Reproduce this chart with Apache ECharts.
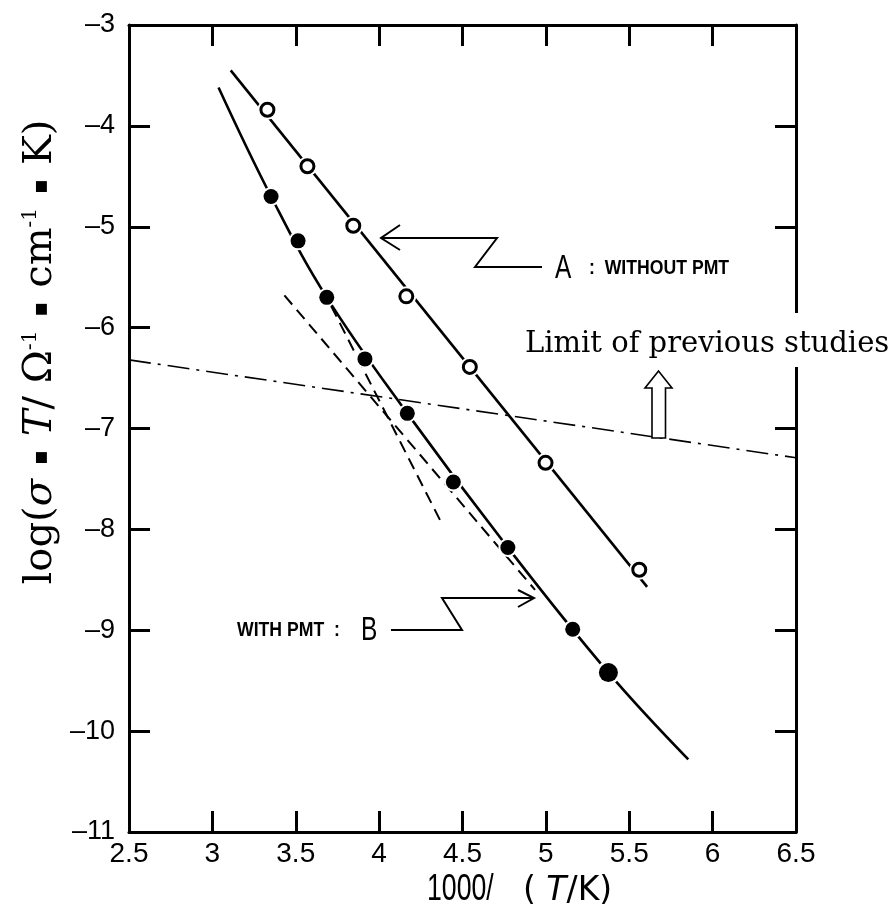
<!DOCTYPE html>
<html><head><meta charset="utf-8">
<script src="https://cdn.jsdelivr.net/npm/echarts@6/dist/echarts.min.js"></script>
<style>html,body{margin:0;padding:0;background:#fff}#c{width:895px;height:908px}</style>
</head><body><div id="c"></div>
<script>
// ---- axis ranges / ticks ----
const xMin = 2.5, xMax = 6.5, xStep = 0.5;
const yMin = -11, yMax = -3, yStep = 1;

// ---- series A : without PMT (open circles) ----
const aX = [3.33, 3.57, 3.845, 4.163, 4.544, 4.998, 5.56];
const aY = [-3.84, -4.40, -4.99, -5.69, -6.39, -7.34, -8.40];
// fitted straight line for A (end points)
const aLineX = [3.11, 5.607];
const aLineY = [-3.45, -8.57];

// ---- series B : with PMT (filled circles) ----
const bX = [3.352, 3.514, 3.686, 3.915, 4.169, 4.445, 4.772, 5.161, 5.375];
const bY = [-4.70, -5.14, -5.70, -6.31, -6.85, -7.53, -8.18, -8.99, -9.42];
// drawn smooth curve for B
const bCurveX = [3.037, 3.352, 3.686, 4.169, 4.772, 5.375, 5.854];
const bCurveY = [-3.62, -4.70, -5.70, -6.85, -8.18, -9.42, -10.28];

// ---- dashed tangent lines ----
const tanHighX = [3.712, 4.366];
const tanHighY = [-5.785, -7.91];
const tanLowX = [3.432, 4.935];
const tanLowY = [-5.68, -8.60];

// ---- limit of previous studies (dash-dot) ----
const limitX = [2.5, 6.5];
const limitY = [-6.32, -7.29];

const zip = (xs, ys) => xs.map((x, i) => [x, ys[i]]);

const SANS = "'Liberation Sans',Arial,sans-serif";
const SERIF = "'DejaVu Serif','Liberation Serif',serif";

const chart = echarts.init(document.getElementById('c'), null, {renderer: 'canvas'});

const axisCommon = {
  type: 'value', splitLine: {show: false},
  axisLine: {show: true, lineStyle: {color: '#000', width: 3}},
  axisTick: {show: true, inside: true, length: 21, lineStyle: {color: '#000', width: 3}}
};

const lineBase = {type: 'line', showSymbol: false, symbol: 'none', silent: true, animation: false};

const option = {
  animation: false,
  backgroundColor: '#fff',
  grid: {left: 129, right: 99, top: 25, bottom: 76},
  xAxis: [
    Object.assign({}, axisCommon, {min: xMin, max: xMax, interval: xStep, position: 'bottom',
      axisLabel: {show: true, color: '#000', fontSize: 28, fontFamily: SANS, margin: 8,
        showMinLabel: true, showMaxLabel: true}}),
    Object.assign({}, axisCommon, {min: xMin, max: xMax, interval: xStep, position: 'top',
      axisLabel: {show: false}})
  ],
  yAxis: [
    Object.assign({}, axisCommon, {min: yMin, max: yMax, interval: yStep, position: 'left',
      axisLabel: {show: true, color: '#000', fontSize: 27, fontFamily: SANS,
        margin: 14, formatter: v => (v < 0 ? '\u2013' + Math.abs(v) : String(v))}}),
    Object.assign({}, axisCommon, {min: yMin, max: yMax, interval: yStep, position: 'right',
      axisLabel: {show: false}})
  ],
  series: [
    Object.assign({}, lineBase, {name: 'A line', data: zip(aLineX, aLineY), z: 2,
      lineStyle: {color: '#000', width: 2.6}}),
    Object.assign({}, lineBase, {name: 'B curve', data: zip(bCurveX, bCurveY), smooth: 0.4, z: 2,
      lineStyle: {color: '#000', width: 2.6}}),
    Object.assign({}, lineBase, {name: 'tangent high T', data: zip(tanHighX, tanHighY), z: 2,
      lineStyle: {color: '#000', width: 2, type: [12, 7]}}),
    Object.assign({}, lineBase, {name: 'tangent low T', data: zip(tanLowX, tanLowY), z: 2,
      lineStyle: {color: '#000', width: 2, type: [12, 7]}}),
    Object.assign({}, lineBase, {name: 'limit', data: zip(limitX, limitY), z: 2,
      lineStyle: {color: '#000', width: 1.6, type: [22, 7, 3, 7]}}),
    // white halos to open small gaps in lines around markers
    {type: 'scatter', data: zip(aX, aY), symbolSize: 20, itemStyle: {color: '#fff', opacity: 1}, z: 3, silent: true},
    {type: 'scatter', data: zip(bX, bY), symbolSize: (v, p) => p.dataIndex === bX.length - 1 ? 24 : 19,
      itemStyle: {color: '#fff', opacity: 1}, z: 3, silent: true},
    {type: 'scatter', name: 'A: without PMT', data: zip(aX, aY), symbol: 'circle', symbolSize: 13,
      itemStyle: {color: '#fff', borderColor: '#000', borderWidth: 3, opacity: 1}, z: 4, silent: true},
    {type: 'scatter', name: 'B: with PMT', data: zip(bX, bY), symbol: 'circle',
      symbolSize: (v, p) => p.dataIndex === bX.length - 1 ? 19 : 15,
      itemStyle: {color: '#000', opacity: 1}, z: 4, silent: true}
  ],
  graphic: [
    // Arrow to A
    {type: 'polyline', z: 50, shape: {points: [[381, 238], [497, 238], [475, 267], [542, 267]]},
      style: {stroke: '#000', lineWidth: 2, fill: null}},
    {type: 'polyline', z: 50, shape: {points: [[400, 225], [381, 238], [400, 250]]},
      style: {stroke: '#000', lineWidth: 2, fill: null}},
    {type: 'text', z: 50, x: 555, y: 269, scaleX: 0.72, style: {text: 'A', fontSize: 34, fontFamily: SANS,
      fill: '#000', align: 'left', verticalAlign: 'middle'}},
    {type: 'text', z: 50, x: 589, y: 268, scaleX: 0.84, style: {text: ':  WITHOUT PMT', fontSize: 21, fontFamily: SANS,
      fontWeight: 'bold', fill: '#000', align: 'left', verticalAlign: 'middle'}},
    // Arrow to B
    {type: 'polyline', z: 50, shape: {points: [[391, 630], [462, 630], [442, 598], [534, 598]]},
      style: {stroke: '#000', lineWidth: 2, fill: null}},
    {type: 'polyline', z: 50, shape: {points: [[518, 590], [534, 598], [518, 607]]},
      style: {stroke: '#000', lineWidth: 2, fill: null}},
    {type: 'text', z: 50, x: 237, y: 630, scaleX: 0.84, style: {text: 'WITH PMT  :', fontSize: 21, fontFamily: SANS,
      fontWeight: 'bold', fill: '#000', align: 'left', verticalAlign: 'middle'}},
    {type: 'text', z: 50, x: 361, y: 631, scaleX: 0.72, style: {text: 'B', fontSize: 34, fontFamily: SANS,
      fill: '#000', align: 'left', verticalAlign: 'middle'}},
    // Limit label with white box covering right axis
    {type: 'rect', z: 60, shape: {x: 518, y: 313, width: 377, height: 54}, style: {fill: '#fff'}},
    {type: 'text', z: 61, x: 525, y: 344, style: {text: 'Limit of previous studies', fontSize: 29,
      fontFamily: SERIF, fill: '#000', align: 'left', verticalAlign: 'middle'}},
    // hollow up arrow
    {type: 'polygon', z: 55, shape: {points: [[652, 438], [652, 388], [645, 388], [658.5, 371], [672, 388], [665.5, 388], [665.5, 438]]},
      style: {fill: '#fff', stroke: '#000', lineWidth: 1.6}},
    // y axis title
    {type: 'text', z: 50, x: 41, y: 352, rotation: Math.PI / 2,
      style: {
        text: 'log({i|\u03c3}{d|  \u25aa  }{i|T}/ \u03a9{s|-1}{d|  \u25aa  }cm{s|-1}{d|  \u25aa  }K)',
        fontSize: 40, fontFamily: SERIF, fill: '#000', align: 'center', verticalAlign: 'middle',
        rich: {
          i: {fontSize: 40, fontFamily: SERIF, fontStyle: 'italic', fill: '#000'},
          d: {fontSize: 22, fontFamily: "'DejaVu Sans',sans-serif", fill: '#000'},
          s: {fontSize: 20, fontFamily: SERIF, fill: '#000', verticalAlign: 'top', padding: [0, 0, 18, 0]}
        }
      }},
    // x axis title
    {type: 'text', z: 50, x: 427, y: 890, scaleX: 0.74,
      style: {text: '1000/', fontSize: 36, fontFamily: SANS, fill: '#000', align: 'left', verticalAlign: 'middle'}},
    {type: 'text', z: 50, x: 523, y: 891,
      style: {
        text: '( {t|T}/K)',
        fontSize: 33, fontFamily: "'DejaVu Sans',sans-serif", fill: '#000', align: 'left', verticalAlign: 'middle',
        rich: {
          t: {fontSize: 33, fontFamily: "'DejaVu Sans',sans-serif", fontStyle: 'italic', fill: '#000'}
        }
      }}
  ]
};
chart.setOption(option);
</script>
</body></html>
